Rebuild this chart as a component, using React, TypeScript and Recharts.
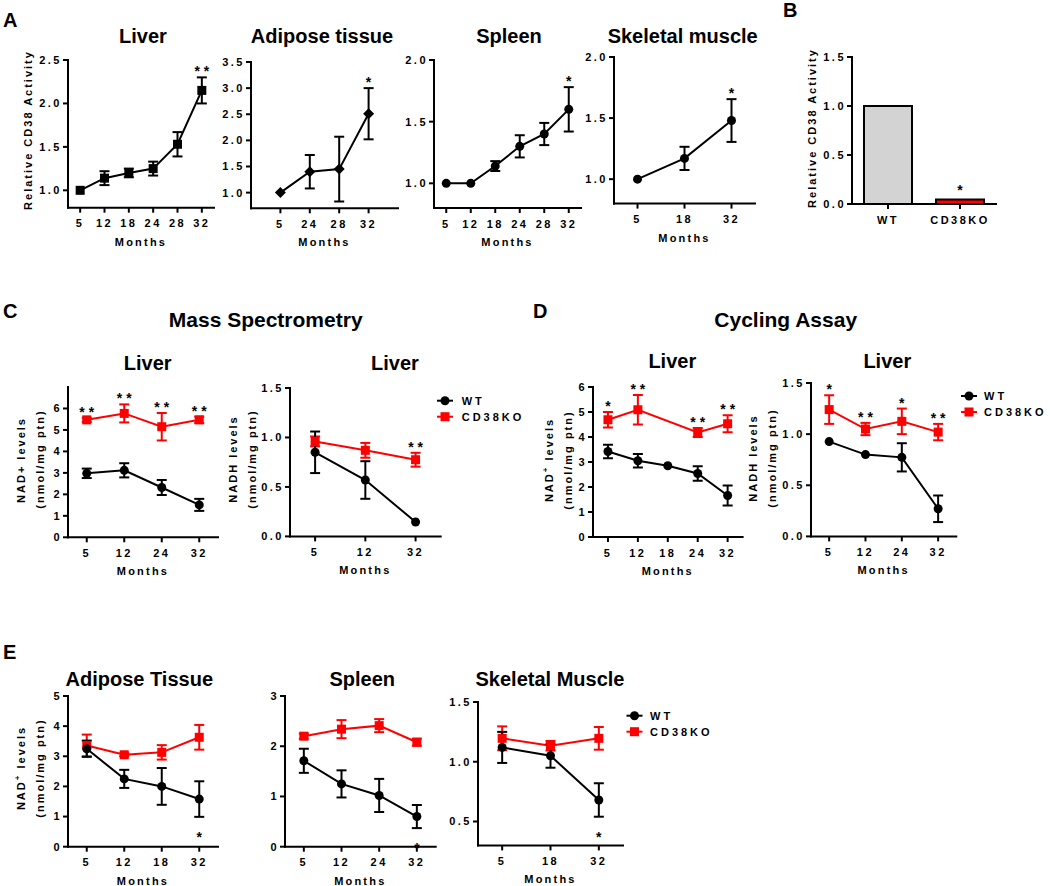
import React from 'react';
import { LineChart, Line, XAxis, YAxis, ErrorBar, ComposedChart, Bar, Cell } from 'recharts';

const RED = '#ff0000';
const BLACK = '#000000';
const FONT = "'Liberation Sans', Arial, Helvetica, sans-serif";

// ---------------- DATA ----------------
// Panel A: relative CD38 activity
const aLiverMonths = ['5', '12', '18', '24', '28', '32'];
const aLiverActivity = [1.0, 1.14, 1.2, 1.25, 1.53, 2.15];
const aLiverSem = [0, 0.08, 0.05, 0.08, 0.14, 0.15];
const aLiverStars = ['', '', '', '', '', '**'];

const aAdiposeMonths = ['5', '24', '28', '32'];
const aAdiposeActivity = [1.0, 1.4, 1.45, 2.51];
const aAdiposeSem = [0, 0.32, 0.62, 0.49];
const aAdiposeStars = ['', '', '', '*'];

const aSpleenMonths = ['5', '12', '18', '24', '28', '32'];
const aSpleenActivity = [1.0, 1.0, 1.14, 1.3, 1.4, 1.6];
const aSpleenSem = [0, 0, 0.04, 0.09, 0.09, 0.18];
const aSpleenStars = ['', '', '', '', '', '*'];

const aMuscleMonths = ['5', '18', '32'];
const aMuscleActivity = [1.0, 1.17, 1.48];
const aMuscleSem = [0, 0.095, 0.175];
const aMuscleStars = ['', '', '*'];

// Panel B
const bGroups = ['WT', 'CD38KO'];
const bActivity = [1.0, 0.045];
const bColors = ['#d3d3d3', RED];
const bStars = ['', '*'];

// Panel C: mass spectrometry, liver
const cNadMonths = ['5', '12', '24', '32'];
const cNadWT = [2.98, 3.12, 2.32, 1.51];
const cNadWTErr = [0.22, 0.33, 0.35, 0.28];
const cNadKO = [5.47, 5.77, 5.15, 5.47];
const cNadKOErr = [0.1, 0.42, 0.64, 0.15];
const cNadStars = ['**', '**', '**', '**'];

const cNadhMonths = ['5', '12', '32'];
const cNadhWT = [0.85, 0.57, 0.145];
const cNadhWTErr = [0.21, 0.19, 0];
const cNadhKO = [0.96, 0.87, 0.775];
const cNadhKOErr = [0.05, 0.075, 0.07];
const cNadhStars = ['', '', '**'];

// Panel D: cycling assay, liver
const dNadMonths = ['5', '12', '18', '24', '32'];
const dNadWT = [3.42, 3.05, 2.85, 2.54, 1.66];
const dNadWTErr = [0.27, 0.27, 0, 0.29, 0.4];
const dNadKO: (number | null)[] = [4.69, 5.09, null, 4.18, 4.53];
const dNadKOErr = [0.31, 0.59, 0, 0.18, 0.34];
const dNadStars = ['*', '**', '', '**', '**'];

const dNadhMonths = ['5', '12', '24', '32'];
const dNadhWT = [0.927, 0.8, 0.773, 0.27];
const dNadhWTErr = [0, 0, 0.138, 0.13];
const dNadhKO = [1.24, 1.05, 1.125, 1.02];
const dNadhKOErr = [0.14, 0.06, 0.125, 0.08];
const dNadhStars = ['*', '**', '*', '**'];

// Panel E: NAD+ in other tissues
const eAdiposeMonths = ['5', '12', '18', '32'];
const eAdiposeWT = [3.25, 2.25, 2.0, 1.58];
const eAdiposeWTErr = [0.27, 0.3, 0.61, 0.59];
const eAdiposeKO = [3.36, 3.05, 3.13, 3.63];
const eAdiposeKOErr = [0.36, 0.05, 0.24, 0.41];
const eAdiposeStars = ['', '', '', '*'];

const eSpleenMonths = ['5', '12', '24', '32'];
const eSpleenWT = [1.71, 1.25, 1.02, 0.6];
const eSpleenWTErr = [0.24, 0.27, 0.33, 0.23];
const eSpleenKO = [2.2, 2.34, 2.41, 2.08];
const eSpleenKOErr = [0.05, 0.18, 0.13, 0.07];
const eSpleenStars = ['', '', '', '*'];

const eMuscleMonths = ['5', '18', '32'];
const eMuscleWT = [1.12, 1.05, 0.68];
const eMuscleWTErr = [0.13, 0.1, 0.14];
const eMuscleKO = [1.196, 1.134, 1.196];
const eMuscleKOErr = [0.1, 0.04, 0.095];
const eMuscleStars = ['', '', '*'];

// ---------------- DRAWING ----------------
const Y_W = 50;
const TOP_PAD = 30;
const RIGHT_PAD = 14;
const X_H = 45;

type Shape = 'square' | 'circle' | 'diamond';

const axisStyle = { stroke: BLACK, strokeWidth: 2, strokeLinecap: 'square' as const };
const tickLineStyle = { stroke: BLACK, strokeWidth: 2 };
const tickStyle = { fill: BLACK, fontSize: 11, fontWeight: 700, letterSpacing: 2.5, fontFamily: FONT };

function Marker({ cx, cy, shape, color }: { cx: any; cy: any; shape: Shape; color: string }) {
  if (cx == null || cy == null || isNaN(cy)) return <g />;
  if (shape === 'square') return <rect x={cx - 4.5} y={cy - 4.5} width={9} height={9} fill={color} />;
  if (shape === 'diamond')
    return <polygon points={`${cx},${cy - 5.5} ${cx + 5.5},${cy} ${cx},${cy + 5.5} ${cx - 5.5},${cy}`} fill={color} />;
  return <circle cx={cx} cy={cy} r={4.5} fill={color} />;
}

type SeriesSpec = {
  key: string;
  values: (number | null)[];
  errors: number[];
  color: string;
  shape: Shape;
  connectNulls?: boolean;
};

type PlotSpec = {
  x: number;
  top: number;
  w: number;
  h: number;
  cats: string[];
  pad: number;
  yDomain: [number, number];
  yTicks: number[];
  decimals: number;
  series: SeriesSpec[];
  stars?: string[];
  starOn?: number;
  starBelow?: boolean;
};

function starDot(below: boolean) {
  return (d: any) => {
    const s = d.payload && d.payload.star;
    if (!s || d.cy == null || isNaN(d.cy)) return <g key={`s${d.index}`} />;
    const y = below ? d.cy + 25 : d.cy - 1;
    return (
      <text key={`s${d.index}`} x={d.cx} dx={2} y={y} textAnchor="middle" fontSize={14} letterSpacing={4} fill={BLACK}
        style={{ fontFamily: FONT, fontWeight: 700 }}>
        {s}
      </text>
    );
  };
}

function Plot(p: PlotSpec) {
  const n = p.cats.length;
  const data = p.cats.map((c, i) => {
    const row: Record<string, any> = { idx: i, cat: c, star: p.stars ? p.stars[i] : '' };
    p.series.forEach((s, k) => {
      row['v' + k] = s.values[i];
      row['e' + k] = s.errors[i] ? s.errors[i] : null;
    });
    if (p.stars && p.stars[i]) {
      const s = p.series[p.starOn ?? 0];
      const v = s.values[i] as number;
      const e = s.errors[i] || 0;
      row.starY = p.starBelow ? v - e : v + e;
    } else {
      row.starY = null;
    }
    return row;
  });
  const order = p.series.map((s, k) => k).reverse();
  return (
    <div style={{ position: 'absolute', left: p.x - Y_W, top: p.top - TOP_PAD }}>
      <LineChart
        width={Y_W + p.w + RIGHT_PAD}
        height={TOP_PAD + p.h + X_H}
        data={data}
        margin={{ top: TOP_PAD, right: RIGHT_PAD, left: 0, bottom: 0 }}
      >
        <XAxis
          type="number"
          dataKey="idx"
          domain={[-p.pad, n - 1 + p.pad]}
          ticks={p.cats.map((_, i) => i)}
          interval={0}
          tickFormatter={(v: number) => p.cats[v]}
          height={X_H}
          axisLine={axisStyle}
          tickLine={tickLineStyle}
          tickSize={5}
          tickMargin={7}
          tick={tickStyle}
          label={{ value: 'Months', position: 'insideBottom', offset: 7, fill: BLACK, fontSize: 11, fontWeight: 700, letterSpacing: 2.2, fontFamily: FONT }}
        />
        <YAxis
          type="number"
          width={Y_W}
          domain={p.yDomain}
          ticks={p.yTicks}
          interval={0}
          tickFormatter={(v: number) => Number(v).toFixed(p.decimals)}
          axisLine={axisStyle}
          tickLine={tickLineStyle}
          tickSize={5}
          tickMargin={1}
          tick={tickStyle}
        />
        {order.map((k) => {
          const s = p.series[k];
          return (
            <Line
              key={s.key}
              dataKey={'v' + k}
              stroke={s.color}
              strokeWidth={2}
              isAnimationActive={false}
              connectNulls={!!s.connectNulls}
              activeDot={false}
              dot={(d: any) => <Marker key={`${s.key}-${d.index}`} cx={d.cx} cy={d.cy} shape={s.shape} color={s.color} />}
            >
              <ErrorBar dataKey={'e' + k} width={5} stroke={s.color} strokeWidth={2} direction="y" isAnimationActive={false} />
            </Line>
          );
        })}
        {p.stars && (
          <Line dataKey="starY" stroke="none" isAnimationActive={false} activeDot={false} dot={starDot(!!p.starBelow)} />
        )}
      </LineChart>
    </div>
  );
}

function BarPanel() {
  const data = bGroups.map((g, i) => ({ g, v: bActivity[i], star: bStars[i] }));
  const w = 144;
  const h = 147;
  return (
    <div style={{ position: 'absolute', left: 852 - Y_W, top: 57 - TOP_PAD }}>
      <ComposedChart
        width={Y_W + w + RIGHT_PAD}
        height={TOP_PAD + h + X_H}
        data={data}
        margin={{ top: TOP_PAD, right: RIGHT_PAD, left: 0, bottom: 0 }}
      >
        <XAxis dataKey="g" height={X_H} axisLine={axisStyle} tickLine={tickLineStyle} tickSize={5} tickMargin={7} tick={tickStyle} interval={0} />
        <YAxis
          type="number"
          width={Y_W}
          domain={[0, 1.5]}
          ticks={[0, 0.5, 1, 1.5]}
          interval={0}
          tickFormatter={(v: number) => Number(v).toFixed(1)}
          axisLine={axisStyle}
          tickLine={tickLineStyle}
          tickSize={5}
          tickMargin={1}
          tick={tickStyle}
        />
        <Bar dataKey="v" barSize={48} stroke={BLACK} strokeWidth={2} isAnimationActive={false}>
          {data.map((d, i) => (
            <Cell key={i} fill={bColors[i]} />
          ))}
        </Bar>
        <Line
          dataKey="v"
          stroke="none"
          isAnimationActive={false}
          activeDot={false}
          dot={(d: any) =>
            d.payload && d.payload.star ? (
              <text key={`b${d.index}`} x={d.cx} y={d.cy - 5} textAnchor="middle" fontSize={14} fill={BLACK} style={{ fontFamily: FONT, fontWeight: 700 }}>
                {d.payload.star}
              </text>
            ) : (
              <g key={`b${d.index}`} />
            )
          }
        />
      </ComposedChart>
    </div>
  );
}

const T = ({ x, y, size = 20, anchor = 'middle', children }: any) => (
  <text x={x} y={y} fontSize={size} textAnchor={anchor} fill={BLACK}>
    {children}
  </text>
);

const VText = ({ x, y, children, ls = 2 }: any) => (
  <text transform={`translate(${x},${y}) rotate(-90)`} textAnchor="middle" dominantBaseline="central" fontSize={11} letterSpacing={ls} fill={BLACK}>
    {children}
  </text>
);

const NadPlus = () => (
  <>
    <tspan>NAD</tspan>
    <tspan dy={-4} fontSize={8}>+</tspan>
    <tspan dy={4}> levels</tspan>
  </>
);

function LegendBox({ x, y, tx }: { x: number; y: number; tx: number }) {
  return (
    <g>
      <line x1={x - 8} x2={x + 8} y1={y} y2={y} stroke={BLACK} strokeWidth={2} />
      <circle cx={x} cy={y} r={4.5} fill={BLACK} />
      <text x={tx} y={y + 4} fontSize={11} letterSpacing={3} fill={BLACK}>WT</text>
      <line x1={x - 8} x2={x + 8} y1={y + 16} y2={y + 16} stroke={RED} strokeWidth={2} />
      <rect x={x - 4.5} y={y + 16 - 4.5} width={9} height={9} fill={RED} />
      <text x={tx} y={y + 20} fontSize={11} letterSpacing={3} fill={BLACK}>CD38KO</text>
    </g>
  );
}

const wt = (values: (number | null)[], errors: number[]): SeriesSpec => ({ key: 'wt', values, errors, color: BLACK, shape: 'circle' });
const ko = (values: (number | null)[], errors: number[], connectNulls = false): SeriesSpec => ({
  key: 'ko', values, errors, color: RED, shape: 'square', connectNulls,
});

export default function App() {
  return (
    <div className="fig" style={{ position: 'relative', width: 1050, height: 886, background: '#fff', overflow: 'hidden' }}>
      <style>{`body{margin:0;} .fig text{font-family:${FONT};font-weight:700;}`}</style>

      {/* Panel A */}
      <Plot x={68} top={60} w={146} h={147.7} cats={aLiverMonths} pad={0.5} yDomain={[0.8, 2.5]} yTicks={[1, 1.5, 2, 2.5]} decimals={1}
        series={[{ key: 'a', values: aLiverActivity, errors: aLiverSem, color: BLACK, shape: 'square' }]} stars={aLiverStars} />
      <Plot x={251} top={62} w={147} h={146.3} cats={aAdiposeMonths} pad={1} yDomain={[0.7, 3.5]} yTicks={[1, 1.5, 2, 2.5, 3, 3.5]} decimals={1}
        series={[{ key: 'a', values: aAdiposeActivity, errors: aAdiposeSem, color: BLACK, shape: 'diamond' }]} stars={aAdiposeStars} />
      <Plot x={433.5} top={60} w={147} h={148} cats={aSpleenMonths} pad={0.5} yDomain={[0.8, 2.0]} yTicks={[1, 1.5, 2]} decimals={1}
        series={[{ key: 'a', values: aSpleenActivity, errors: aSpleenSem, color: BLACK, shape: 'circle' }]} stars={aSpleenStars} />
      <Plot x={614} top={56.7} w={141} h={146.6} cats={aMuscleMonths} pad={0.5} yDomain={[0.8, 2.0]} yTicks={[1, 1.5, 2]} decimals={1}
        series={[{ key: 'a', values: aMuscleActivity, errors: aMuscleSem, color: BLACK, shape: 'circle' }]} stars={aMuscleStars} />

      {/* Panel B */}
      <BarPanel />

      {/* Panel C */}
      <Plot x={68} top={386.7} w={150} h={150.3} cats={cNadMonths} pad={0.5} yDomain={[0, 7]} yTicks={[0, 1, 2, 3, 4, 5, 6]} decimals={0}
        series={[wt(cNadWT, cNadWTErr), ko(cNadKO, cNadKOErr)]} stars={cNadStars} starOn={1} />
      <Plot x={290} top={388.3} w={150.7} h={148.4} cats={cNadhMonths} pad={0.5} yDomain={[0, 1.5]} yTicks={[0, 0.5, 1, 1.5]} decimals={1}
        series={[wt(cNadhWT, cNadhWTErr), ko(cNadhKO, cNadhKOErr)]} stars={cNadhStars} starOn={1} />

      {/* Panel D */}
      <Plot x={592.7} top={387.3} w={149.6} h={150} cats={dNadMonths} pad={0.5} yDomain={[0, 6]} yTicks={[0, 1, 2, 3, 4, 5, 6]} decimals={0}
        series={[wt(dNadWT, dNadWTErr), ko(dNadKO, dNadKOErr, true)]} stars={dNadStars} starOn={1} />
      <Plot x={810.7} top={383.3} w={145.3} h={153.4} cats={dNadhMonths} pad={0.5} yDomain={[0, 1.5]} yTicks={[0, 0.5, 1, 1.5]} decimals={1}
        series={[wt(dNadhWT, dNadhWTErr), ko(dNadhKO, dNadhKOErr)]} stars={dNadhStars} starOn={1} />

      {/* Panel E */}
      <Plot x={68} top={696} w={150} h={150.7} cats={eAdiposeMonths} pad={0.5} yDomain={[0, 5]} yTicks={[0, 1, 2, 3, 4, 5]} decimals={0}
        series={[wt(eAdiposeWT, eAdiposeWTErr), ko(eAdiposeKO, eAdiposeKOErr)]} stars={eAdiposeStars} starOn={0} starBelow />
      <Plot x={285} top={696} w={150.7} h={150.7} cats={eSpleenMonths} pad={0.5} yDomain={[0, 3]} yTicks={[0, 1, 2, 3]} decimals={0}
        series={[wt(eSpleenWT, eSpleenWTErr), ko(eSpleenKO, eSpleenKOErr)]} stars={eSpleenStars} starOn={0} starBelow />
      <Plot x={478.3} top={702.3} w={145} h={143.4} cats={eMuscleMonths} pad={0.5} yDomain={[0.3, 1.5]} yTicks={[0.5, 1, 1.5]} decimals={1}
        series={[wt(eMuscleWT, eMuscleWTErr), ko(eMuscleKO, eMuscleKOErr)]} stars={eMuscleStars} starOn={0} starBelow />

      {/* Text overlay */}
      <svg width={1050} height={886} style={{ position: 'absolute', left: 0, top: 0, pointerEvents: 'none' }}>
        <T x={3} y={26.5} anchor="start">A</T>
        <T x={783} y={17} anchor="start">B</T>
        <T x={3} y={318} anchor="start">C</T>
        <T x={533} y={318} anchor="start">D</T>
        <T x={3} y={659} anchor="start">E</T>

        <T x={143} y={43.3}>Liver</T>
        <T x={322} y={43}>Adipose tissue</T>
        <T x={509} y={42.7}>Spleen</T>
        <T x={682.7} y={42.7}>Skeletal muscle</T>

        <T x={265.7} y={326.7} size={21}>Mass Spectrometry</T>
        <T x={785.7} y={327.3} size={21}>Cycling Assay</T>
        <T x={147.7} y={370}>Liver</T>
        <T x={395} y={370}>Liver</T>
        <T x={672.3} y={368.3}>Liver</T>
        <T x={887.3} y={368.3}>Liver</T>

        <T x={139.3} y={686}>Adipose Tissue</T>
        <T x={362.3} y={686}>Spleen</T>
        <T x={550} y={686}>Skeletal Muscle</T>

        <VText x={28} y={130}>Relative CD38 Activity</VText>
        <VText x={812} y={128}>Relative CD38 Activity</VText>

        <VText x={20.7} y={460}>NAD+ levels</VText>
        <VText x={40} y={459}>(nmol/mg ptn)</VText>
        <VText x={233.3} y={459}>NADH levels</VText>
        <VText x={252.3} y={459}>(nmol/mg ptn)</VText>

        <VText x={549.3} y={460}><NadPlus /></VText>
        <VText x={568.3} y={460}>(nmol/mg ptn)</VText>
        <VText x={753.3} y={458}>NADH levels</VText>
        <VText x={772.3} y={458}>(nmol/mg ptn)</VText>

        <VText x={20.7} y={768}><NadPlus /></VText>
        <VText x={40} y={768}>(nmol/mg ptn)</VText>

        <LegendBox x={445} y={400.7} tx={461.7} />
        <LegendBox x={969} y={396} tx={984} />
        <LegendBox x={634.5} y={715.7} tx={650} />
      </svg>
    </div>
  );
}
